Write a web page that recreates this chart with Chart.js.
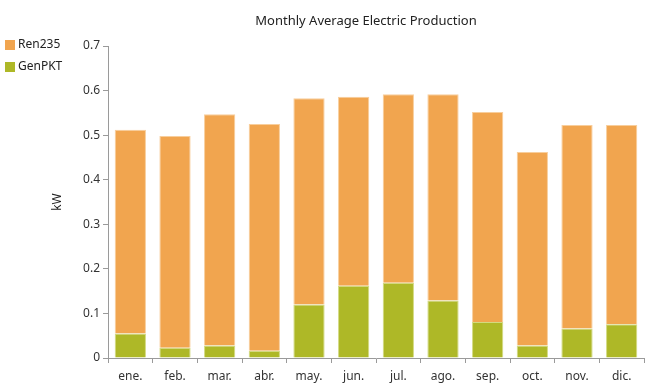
<!DOCTYPE html>
<html>
<head>
<meta charset="utf-8">
<script src="https://cdn.jsdelivr.net/npm/chart.js@4"></script>
<style>
  html, body { margin: 0; padding: 0; background: #fff; }
  #wrap { width: 649px; height: 384px; }
</style>
</head>
<body>
<div id="wrap"><canvas id="chart" width="649" height="384"></canvas></div>
<script>
const months = ['ene.', 'feb.', 'mar.', 'abr.', 'may.', 'jun.', 'jul.', 'ago.', 'sep.', 'oct.', 'nov.', 'dic.'];
const genPKT = [0.055, 0.023, 0.028, 0.016, 0.120, 0.162, 0.169, 0.129, 0.081, 0.028, 0.066, 0.076];
const ren235 = [0.457, 0.475, 0.519, 0.509, 0.463, 0.424, 0.423, 0.463, 0.471, 0.434, 0.457, 0.447];
const yTicks = [0, 0.1, 0.2, 0.3, 0.4, 0.5, 0.6, 0.7];

const FONT = '"Noto Sans", "Open Sans", sans-serif';
const ORANGE = '#F1A54F';
const GREEN = '#AEB827';

// legend + title drawn by hand so they sit where the original puts them
const decor = {
  id: 'decor',
  afterDraw(chart) {
    const ctx = chart.ctx;
    ctx.save();
    ctx.textBaseline = 'middle';
    ctx.fillStyle = '#222';
    ctx.textAlign = 'center';
    ctx.font = '13px ' + FONT;
    ctx.fillText('Monthly Average Electric Production', 366, 21);

    ctx.font = '12px ' + FONT;
    const items = [['Ren235', ORANGE, 45], ['GenPKT', GREEN, 67]];
    ctx.textAlign = 'left';
    items.forEach(([label, color, y]) => {
      ctx.fillStyle = color;
      ctx.fillRect(5, y - 5, 10, 10);
      ctx.fillStyle = '#222';
      ctx.fillText(label, 18, y);
    });
    ctx.restore();
  }
};

new Chart(document.getElementById('chart'), {
  type: 'bar',
  data: {
    labels: months,
    datasets: [
      {
        label: 'GenPKT',
        data: genPKT,
        backgroundColor: GREEN,
        borderColor: '#D3DA80',
        borderWidth: 1,
        barPercentage: 0.7,
        categoryPercentage: 1
      },
      {
        label: 'Ren235',
        data: ren235,
        backgroundColor: ORANGE,
        borderColor: '#F8CE9C',
        borderWidth: 1,
        barPercentage: 0.7,
        categoryPercentage: 1
      }
    ]
  },
  options: {
    responsive: false,
    animation: false,
    layout: { padding: { left: 50, top: 46, right: 5, bottom: 0 } },
    plugins: {
      legend: { display: false },
      title: { display: false },
      tooltip: { enabled: false }
    },
    scales: {
      x: {
        stacked: true,
        afterFit(scale) { scale.height = 26; },
        grid: { drawOnChartArea: false, color: '#9a9a9a', tickLength: 5 },
        border: { color: '#9a9a9a' },
        ticks: { color: '#333', font: { family: FONT, size: 12 }, padding: 6 }
      },
      y: {
        stacked: true,
        min: 0,
        max: 0.7,
        afterBuildTicks(scale) {
          scale.ticks = yTicks.map(v => ({ value: v }));
        },
        afterFit(scale) { scale.width = 58; },
        grid: { drawOnChartArea: false, color: '#9a9a9a', tickLength: 5 },
        border: { color: '#9a9a9a' },
        ticks: {
          color: '#333',
          font: { family: FONT, size: 12 },
          padding: 3,
          callback: v => String(v)
        },
        title: {
          display: true,
          text: 'kW',
          color: '#222',
          font: { family: FONT, size: 12 },
          padding: 0
        }
      }
    }
  },
  plugins: [decor]
});
</script>
</body>
</html>
